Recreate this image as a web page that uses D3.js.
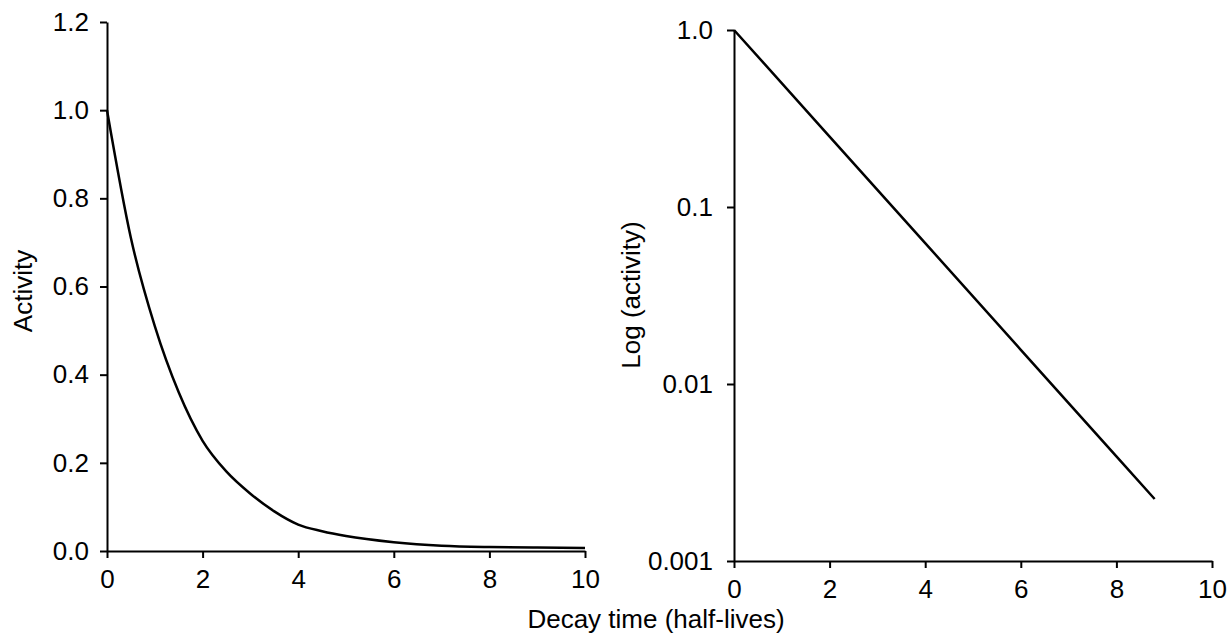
<!DOCTYPE html>
<html>
<head>
<meta charset="utf-8">
<script src="https://cdn.jsdelivr.net/npm/d3@7"></script>
<style>
body { margin: 0; background: #fff; }
text { font-family: "Liberation Sans", Arial, sans-serif; fill: #000; }
</style>
</head>
<body>
<script>
// decay curves, time in half-lives
var linTime = [0, 0.5, 1, 1.5, 2, 2.5, 3, 3.5, 4, 4.5, 5, 6, 7, 8, 9, 10];
var linActivity = [1.0, 0.71, 0.51, 0.36, 0.25, 0.18, 0.13, 0.09, 0.06, 0.045, 0.034, 0.02, 0.012, 0.009, 0.008, 0.007];
var logTime = [0, 2, 4, 6, 8, 8.8];
var logActivity = [1.0, 0.25, 0.0625, 0.0156, 0.0039, 0.00224];

var xTicks = [0, 2, 4, 6, 8, 10];
var linTicks = [0, 0.2, 0.4, 0.6, 0.8, 1.0, 1.2];
var logTicks = [0.001, 0.01, 0.1, 1];
var logTickLabels = ["0.001", "0.01", "0.1", "1.0"];

var w = 1229, h = 642;
var fs = 26;

var svg = d3.select("body").append("svg")
  .attr("width", w)
  .attr("height", h);

// left panel: linear
var x1 = d3.scaleLinear().domain([0, 10]).range([107, 585]);
var y1 = d3.scaleLinear().domain([0, 1.2]).range([551, 22]);

// right panel: log
var x2 = d3.scaleLinear().domain([0, 10]).range([734, 1212]);
var y2 = d3.scaleLog().domain([0.001, 1]).range([561, 30]);

function styleAxis(g) {
  g.selectAll("path").attr("stroke", "#000").attr("stroke-width", 2);
  g.selectAll("line").attr("stroke", "#000").attr("stroke-width", 2);
  g.selectAll("text").attr("font-size", fs).attr("fill", "#000")
    .attr("font-family", "Liberation Sans, Arial, sans-serif");
}

svg.append("g")
  .attr("transform", "translate(0," + y1(0) + ")")
  .call(d3.axisBottom(x1).tickValues(xTicks).tickSize(7).tickSizeOuter(0).tickPadding(12).tickFormat(d3.format("d")))
  .call(styleAxis);

svg.append("g")
  .attr("transform", "translate(" + x1(0) + ",0)")
  .call(d3.axisLeft(y1).tickValues(linTicks).tickSize(7).tickSizeOuter(0).tickPadding(11).tickFormat(d3.format(".1f")))
  .call(styleAxis);

svg.append("g")
  .attr("transform", "translate(0," + y2(0.001) + ")")
  .call(d3.axisBottom(x2).tickValues(xTicks).tickSize(7).tickSizeOuter(0).tickPadding(12).tickFormat(d3.format("d")))
  .call(styleAxis);

svg.append("g")
  .attr("transform", "translate(" + x2(0) + ",0)")
  .call(d3.axisLeft(y2).tickValues(logTicks).tickSize(7).tickSizeOuter(0).tickPadding(14)
    .tickFormat(function(d, i) { return logTickLabels[i]; }))
  .call(styleAxis);

// curves
var line1 = d3.line()
  .x(function(d, i) { return x1(linTime[i]); })
  .y(function(d) { return y1(d); })
  .curve(d3.curveMonotoneX);

svg.append("path")
  .datum(linActivity)
  .attr("d", line1)
  .attr("fill", "none")
  .attr("stroke", "#000")
  .attr("stroke-width", 2.5);

var line2 = d3.line()
  .x(function(d, i) { return x2(logTime[i]); })
  .y(function(d) { return y2(d); });

svg.append("path")
  .datum(logActivity)
  .attr("d", line2)
  .attr("fill", "none")
  .attr("stroke", "#000")
  .attr("stroke-width", 2.5);

// axis titles
svg.append("text")
  .attr("transform", "translate(32,291) rotate(-90)")
  .attr("text-anchor", "middle")
  .attr("font-size", fs)
  .text("Activity");

svg.append("text")
  .attr("transform", "translate(640,295) rotate(-90)")
  .attr("text-anchor", "middle")
  .attr("font-size", fs)
  .text("Log (activity)");

svg.append("text")
  .attr("x", 656)
  .attr("y", 628)
  .attr("text-anchor", "middle")
  .attr("font-size", fs)
  .text("Decay time (half-lives)");
</script>
</body>
</html>
